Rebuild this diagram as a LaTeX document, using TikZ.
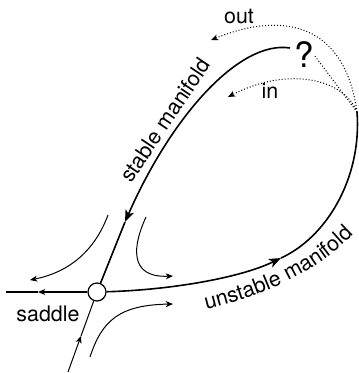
\documentclass[tikz,border=0pt]{standalone}
\usepackage{fontspec}
\setmainfont{TeX Gyre Heros}
\usetikzlibrary{arrows.meta,decorations.text}

\newcommand\lblfont{\fontsize{10.7}{12}\selectfont}

\tikzset{
  manifold/.style={line width=0.8pt},
  orbit/.style={line width=0.5pt},
  probe/.style={line width=0.5pt, densely dotted},
  bigtip/.style={-{Stealth[length=6pt,width=4.6pt,inset=1.6pt]}},
  smalltip/.style={-{Stealth[length=3.6pt,width=3pt,inset=1pt]}},
  label/.style={font=\lblfont, inner sep=0pt},
  saddlept/.style={circle, draw, fill=white, line width=0.6pt, minimum size=9pt, inner sep=0pt}
}

\begin{document}
\begin{tikzpicture}[x=0.5pt,y=-0.5pt]
    % Frame (pixel units of the sketch)
    \useasboundingbox (0,0) rectangle (358,373);

    % Saddle point
    \node[saddlept] (saddle) at (97,292) {};
    \node[label] (saddlelbl) at (48,314) {saddle};

    % Points on the loop
    \coordinate (top) at (290,48);
    \coordinate (tipS) at (125,222);
    \coordinate (tipU) at (281,258);
    \coordinate (right) at (357,112);

    % Stable manifold
    \draw[manifold, bigtip] (top) .. controls (240,40) and (172,115) .. (tipS);
    \draw[manifold] (tipS) -- (saddle);
    \node[label, rotate=56] (stablelbl) at (165,120) {stable manifold};

    % Unstable manifold
    \draw[manifold, bigtip] (saddle) .. controls (170,290) and (240,278) .. (tipU);
    \draw[manifold] (tipU) .. controls (325,238) and (362,180) .. (right);
    \path[decorate, decoration={text along path, text align=center,
        text={|\lblfont|unstable manifold}}]
        (190,313) .. controls (250,300) and (320,277) .. (365,222);

    % Open question at the top
    \node[label, font=\fontsize{17.5}{20}\selectfont] (qm) at (304,55) {?};
    \coordinate (outend) at (211,40);
    \coordinate (inend) at (228,97);
    \draw[probe, smalltip] (right) .. controls (345,25) and (285,10) .. (outend);
    \draw[probe] (right) -- (qm.east);
    \draw[probe, smalltip] (right) .. controls (345,80) and (290,65) .. (inend);
    \node[label] (outlbl) at (239,17) {out};
    \node[label] (inlbl) at (270,91) {in};

    % Nearby orbits
    \coordinate (ulA) at (108,215);
    \coordinate (ulB) at (30,280);
    \coordinate (urA) at (146,217);
    \coordinate (urB) at (173,276);
    \coordinate (lrA) at (90,357);
    \coordinate (lrB) at (173,304);
    \draw[orbit, smalltip] (ulA) .. controls (95,250) and (70,272) .. (ulB);
    \draw[orbit, smalltip] (urA) .. controls (133,245) and (128,278) .. (urB);
    \draw[orbit, smalltip] (lrA) .. controls (102,320) and (120,305) .. (lrB);

    % Straight branches through the saddle
    \coordinate (lmid) at (38,292);
    \coordinate (lend) at (6,292);
    \coordinate (bend) at (68,372);
    \coordinate (bmid) at (81,336);
    \draw[line width=0.6pt, smalltip] (saddle) -- (lmid);
    \draw[line width=0.6pt] (lmid) -- (lend);
    \draw[orbit, smalltip] (bend) -- (bmid);
    \draw[orbit] (bmid) -- (saddle);
\end{tikzpicture}
\end{document}
